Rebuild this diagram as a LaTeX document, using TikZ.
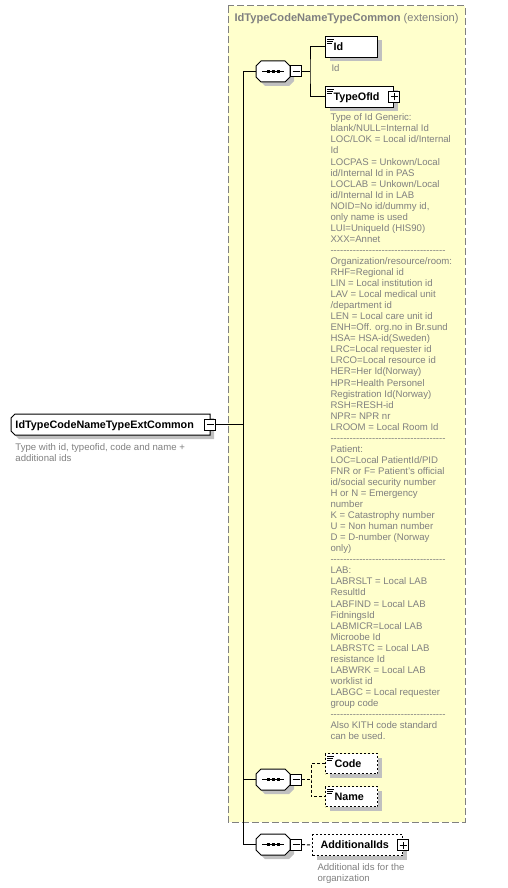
\documentclass[tikz,border=0pt]{standalone}
\usepackage{fontspec}
\setmainfont{Liberation Sans}
\usetikzlibrary{shadows}
\definecolor{ybg}{RGB}{255,255,204}
\definecolor{dgray}{RGB}{128,128,128}
\definecolor{shd}{RGB}{192,192,192}
\newcommand\seplinebox{\hbox to 117pt{\leaders\hbox{-}\hfill}}
\newcommand\seqsym[3]{%
  \begin{scope}[shift={(#2,#3)}]
    \fill[shd] (-8,-6.5) -- (16,-6.5) -- (21,-1.5) -- (21,9.5) -- (16,14.5) -- (-8,14.5) -- (-13,9.5) -- (-13,-1.5) -- cycle;
    \draw[fill=white] (-12,-10.5) -- (12,-10.5) -- (17,-5.5) -- (17,5.5) -- (12,10.5) -- (-12,10.5) -- (-17,5.5) -- (-17,-5.5) -- cycle;
    \draw (-11,0) -- (11,0);
    \fill (-6.5,-1.5) rectangle (-3.5,1.5);
    \fill (-1.5,-1.5) rectangle (1.5,1.5);
    \fill (3.5,-1.5) rectangle (6.5,1.5);
    \node[minimum width=34pt, minimum height=21pt, inner sep=0pt] (#1) at (0,0) {};
  \end{scope}
  \node[btn] (#1b) at (#2+23,#3) {};
  \draw[line width=1pt] ([xshift=-3.5pt]#1b.center) -- ([xshift=3.5pt]#1b.center);
}
\newcommand\elicon[1]{%
  \draw[line width=0.8pt] ([shift={(2,3)}]#1.north west) -- ++(7,0);
  \draw[line width=0.8pt] ([shift={(2,5)}]#1.north west) -- ++(6,0);
  \draw[line width=0.8pt] ([shift={(2,7)}]#1.north west) -- ++(4.5,0);
}
\newcommand\plussign[1]{%
  \draw[line width=1pt] ([xshift=-3.5pt]#1.center) -- ([xshift=3.5pt]#1.center);
  \draw[line width=1pt] ([yshift=-3.5pt]#1.center) -- ([yshift=3.5pt]#1.center);
}
\begin{document}
\begin{tikzpicture}[x=1pt,y=-1pt,line width=1pt,
  btn/.style={draw, fill=white, minimum size=11pt, inner sep=0pt},
  labelfont/.style={font=\fontsize{10.8}{12}\selectfont\bfseries},
  elem/.style={draw, fill=white, anchor=north west, inner xsep=0pt, inner ysep=0pt,
    minimum height=21pt, align=left, labelfont, text height=7.7pt, text depth=0pt,
    drop shadow={shadow xshift=4pt, shadow yshift=-4pt, fill=shd, opacity=1}},
  optelem/.style={elem, dash pattern=on 2pt off 2pt, minimum height=20pt},
  desc/.style={text=dgray, inner sep=0pt, align=left, font=\fontsize{9.6}{11.05}\selectfont},
  dashedline/.style={dash pattern=on 3pt off 2pt}]
\useasboundingbox (0,0) rectangle (508,888);
% extension container
\draw[dgray, dash pattern=on 7pt off 3pt, fill=ybg] (228,6) rectangle (465,822);
\node[anchor=base west, text=dgray, inner sep=0pt, font=\fontsize{11.1}{13}\selectfont] (title) at (234,22)
  {\textbf{IdTypeCodeNameTypeCommon} (extension)};
% main complex type
\fill[shd] (19,418) -- (214,418) -- (214,439) -- (19,439) -- (15,435) -- (15,422) -- cycle;
\draw[fill=white] (15,414) -- (210,414) -- (210,435) -- (15,435) -- (11,431) -- (11,418) -- cycle;
\node[anchor=west, inner sep=0pt, labelfont, text height=7.7pt, text depth=0pt] (main) at (15,424.5) {IdTypeCodeNameTypeExtCommon};
\node[btn] (mainbtn) at (210,424.5) {};
\draw ([xshift=-3.5pt]mainbtn.center) -- ([xshift=3.5pt]mainbtn.center);
\node[desc, anchor=north west] (maind) at (15,441.5) {\rule{0pt}{8pt}Type with id, typeofid, code and name +\\additional ids};
% sequences
\seqsym{seqa}{273}{71.5}
\seqsym{seqb}{273}{779.5}
\seqsym{seqc}{273}{844.5}
% trunk
\coordinate (tr) at (243,424.5);
\draw (mainbtn.east) -- (tr);
\draw (seqa.west) -| (tr);
\draw (seqc.west) -| (tr);
\draw (seqb.west) -- (seqb.west -| tr);
% first sequence
\node[elem, text width=52pt] (id) at (325,36) {\hspace*{8pt}Id};
\elicon{id}
\node[desc, anchor=base west] (idd) at (331,72) {Id};
\node[elem, text width=68pt] (toid) at (325,86) {\hspace*{8pt}TypeOfId};
\elicon{toid}
\node[btn] (toidb) at (toid.east) {};
\plussign{toidb}
\coordinate (ba) at (310,71.5);
\draw (seqab.east) -- (ba);
\draw (id.west) -| (ba) |- (toid.west);
\node[desc, anchor=north west] (toidd) at (330,112.3) {\rule{0pt}{8pt}Type of Id Generic:\\
blank/NULL=Internal Id\\
LOC/LOK = Local id/Internal\\
Id\\
LOCPAS = Unkown/Local\\
id/Internal Id in PAS\\
LOCLAB = Unkown/Local\\
id/Internal Id in LAB\\
NOID=No id/dummy id,\\
only name is used\\
LUI=UniqueId (HIS90)\\
XXX=Annet\\
\seplinebox\\
Organization/resource/room:\\
RHF=Regional id\\
LIN = Local institution id\\
LAV = Local medical unit\\
/department id\\
LEN = Local care unit id\\
ENH=Off. org.no in Br.sund\\
HSA= HSA-id(Sweden)\\
LRC=Local requester id\\
LRCO=Local resource id\\
HER=Her Id(Norway)\\
HPR=Health Personel\\
Registration Id(Norway)\\
RSH=RESH-id\\
NPR= NPR nr\\
LROOM = Local Room Id\\
\seplinebox\\
Patient:\\
LOC=Local PatientId/PID\\
FNR or F= Patient's official\\
id/social security number\\
H or N = Emergency\\
number\\
K = Catastrophy number\\
U = Non human number\\
D = D-number (Norway\\
only)\\
\seplinebox\\
LAB:\\
LABRSLT = Local LAB\\
ResultId\\
LABFIND = Local LAB\\
FidningsId\\
LABMICR=Local LAB\\
Microobe Id\\
LABRSTC = Local LAB\\
resistance Id\\
LABWRK = Local LAB\\
worklist id\\
LABGC = Local requester\\
group code\\
\seplinebox\\
Also KITH code standard\\
can be used.};
% second sequence
\node[optelem, text width=52pt] (code) at (325,753) {\hspace*{9pt}Code};
\elicon{code}
\node[optelem, text width=52pt] (name) at (325,786) {\hspace*{9pt}Name};
\elicon{name}
\coordinate (bb) at (311,779.5);
\draw[dashedline] (seqbb.east) -- (bb);
\draw[dashedline] (code.west) -| (bb) |- (name.west);
% third sequence
\node[optelem, minimum height=21pt, text width=90pt] (addids) at (312,834) {\hspace*{8pt}AdditionalIds};
\node[btn] (addidsb) at (addids.east) {};
\plussign{addidsb}
\draw[dashedline] (seqcb.east) -- (addids.west);
\node[desc, anchor=north west] (addidsd) at (317,862) {\rule{0pt}{8pt}Additional ids for the\\organization};
\end{tikzpicture}
\end{document}
